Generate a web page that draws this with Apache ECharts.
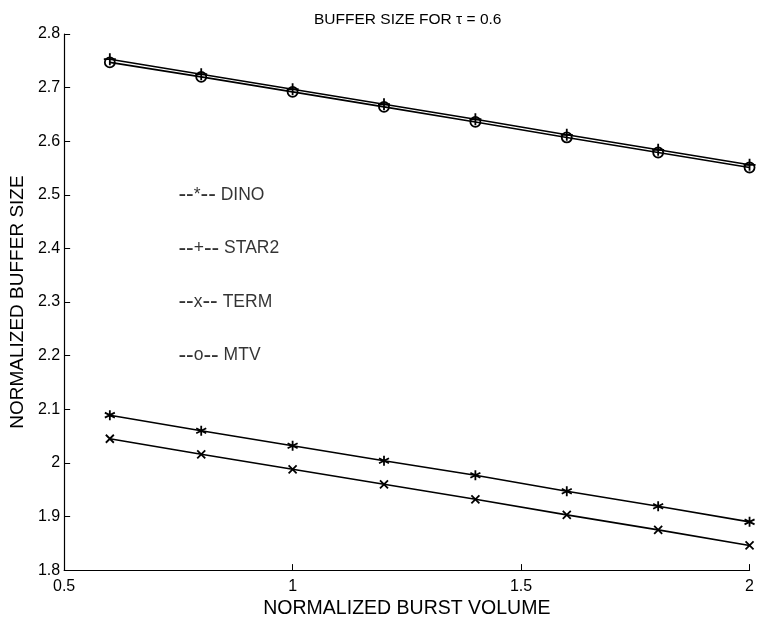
<!DOCTYPE html>
<html><head><meta charset="utf-8">
<script src="https://cdn.jsdelivr.net/npm/echarts@6/dist/echarts.min.js"></script>
<style>html,body{margin:0;padding:0;background:#fff}#c{width:757px;height:624px}</style>
</head><body><div id="c"></div>
<script>
const xValues = [0.6, 0.8, 1.0, 1.2, 1.4, 1.6, 1.8, 2.0];
const dino  = [2.089, 2.060, 2.032, 2.004, 1.977, 1.947, 1.919, 1.890];
const star2 = [2.753, 2.725, 2.697, 2.669, 2.641, 2.612, 2.584, 2.556];
const term  = [2.045, 2.016, 1.988, 1.960, 1.932, 1.903, 1.875, 1.846];
const mtv   = [2.747, 2.720, 2.692, 2.664, 2.636, 2.607, 2.579, 2.551];
const legendMarks = ['*', '+', 'x', 'o'];
const legendNames = ['DINO', 'STAR2', 'TERM', 'MTV'];
const legendX = [0.75, 0.75, 0.75, 0.75];
const legendY = [2.5, 2.4, 2.3, 2.2];
const titleText = 'BUFFER SIZE FOR \u03c4 = 0.6';
const xName = 'NORMALIZED BURST VOLUME';
const yName = 'NORMALIZED BUFFER SIZE';

const FONT = "'Liberation Sans', Arial, Helvetica, sans-serif";
const pts = arr => xValues.map((x, i) => [x, arr[i]]);
const SYM = {
  star: 'path://M5,0L5,10M0.7,2.5L9.3,7.5M0.7,7.5L9.3,2.5',
  plus: 'path://M5,0L5,10M0,5L10,5',
  cross: 'path://M0,0L10,10M0,10L10,0',
  circle: 'path://M10,5A5,5,0,1,1,0,5A5,5,0,1,1,10,5Z'
};
function lineSeries(name, data, symbol, size) {
  return {
    name, type: 'line', data: pts(data), symbol, symbolSize: size,
    showAllSymbol: true,
    lineStyle: { color: '#000', width: 1.6 },
    itemStyle: { color: 'none', borderColor: '#000', borderWidth: 1.8 },
    z: 3, animation: false
  };
}
const fmt = v => String(parseFloat(Number(v).toFixed(1)));
const chart = echarts.init(document.getElementById('c'), null, { renderer: 'canvas' });
chart.setOption({
  animation: false,
  backgroundColor: '#fff',
  title: { text: titleText, left: 309, top: 7, textStyle: { fontFamily: FONT, fontSize: 15.5, fontWeight: 'normal', color: '#000' } },
  grid: { left: 59, right: 4, top: 34, bottom: 45 },
  xAxis: {
    type: 'value', min: 0.5, max: 2, interval: 0.5,
    name: xName, nameLocation: 'middle', nameGap: 25,
    nameTextStyle: { fontFamily: FONT, fontSize: 19.5, color: '#000' },
    axisLine: { lineStyle: { color: '#000', width: 1.2 } },
    axisTick: { inside: true, length: 6, lineStyle: { color: '#000' } },
    axisLabel: { formatter: fmt, fontFamily: FONT, fontSize: 16, color: '#000', margin: 8 },
    splitLine: { show: false }
  },
  yAxis: {
    type: 'value', min: 1.8, max: 2.8, interval: 0.1,
    name: yName, nameLocation: 'middle', nameGap: 31, nameRotate: 90,
    nameTextStyle: { fontFamily: FONT, fontSize: 19, color: '#000' },
    axisLine: { lineStyle: { color: '#000', width: 1.2 } },
    axisTick: { inside: true, length: 6, lineStyle: { color: '#000' } },
    axisLabel: { formatter: fmt, fontFamily: FONT, fontSize: 16, color: '#000', margin: 4 },
    splitLine: { show: false }
  },
  series: [
    lineSeries('DINO', dino, SYM.star, 10),
    lineSeries('STAR2', star2, SYM.plus, 12),
    lineSeries('TERM', term, SYM.cross, 8),
    lineSeries('MTV', mtv, SYM.circle, 10),
    {
      type: 'scatter', symbolSize: 0, silent: true, animation: false,
      data: legendNames.map((t, i) => [legendX[i], legendY[i], legendMarks[i], t]),
      label: {
        show: true, position: 'right', distance: 0,
        formatter: p => '{d|--}' + p.value[2] + '{d|--} ' + p.value[3],
        fontFamily: FONT, fontSize: 17.5, color: '#000',
        rich: { d: { fontFamily: FONT, fontSize: 23, color: '#000' } }
      }
    }
  ]
});
</script></body></html>
